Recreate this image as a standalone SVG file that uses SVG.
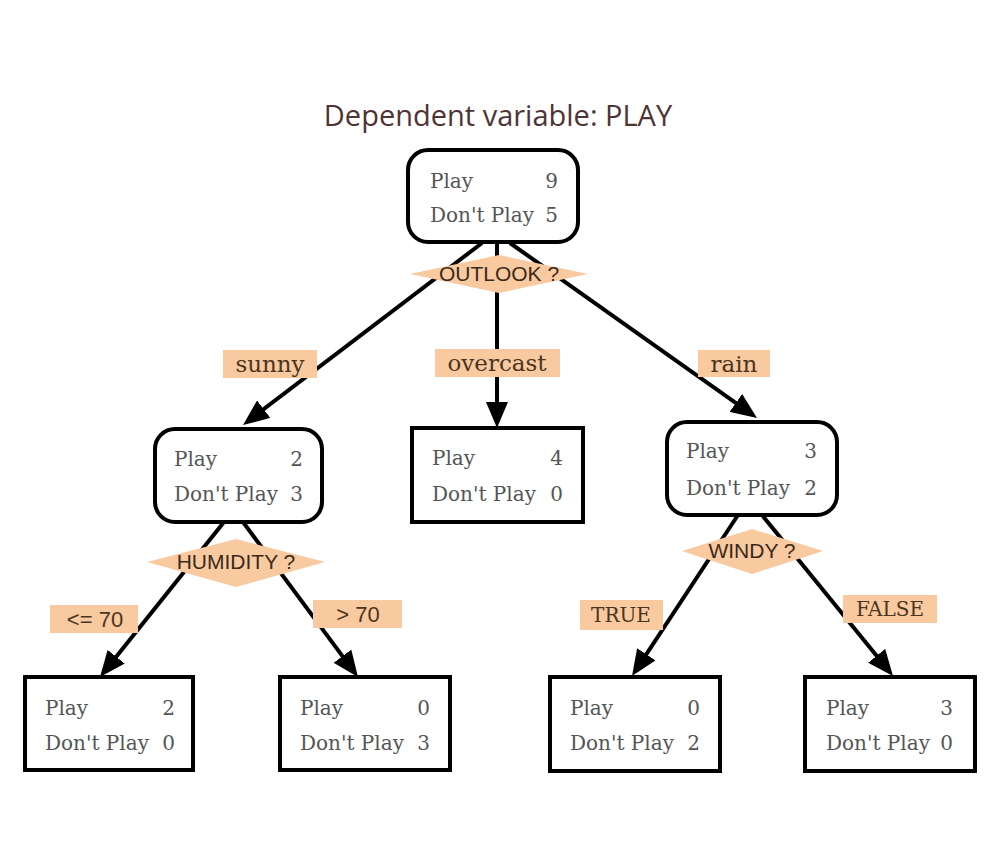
<svg xmlns="http://www.w3.org/2000/svg" width="1000" height="857" viewBox="0 0 1000 857">
<style>
.box{fill:#fff;stroke:#000;stroke-width:4}
.t{font-family:"DejaVu Serif","Liberation Serif",serif;font-size:20px;fill:#555}
.n{font-family:"DejaVu Serif","Liberation Serif",serif;font-size:20px;fill:#555;text-anchor:end}
.lb{fill:#f9c9a0}
.lt{font-family:"DejaVu Serif","Liberation Serif",serif;font-size:23px;fill:#4a3520;text-anchor:middle}
.lu{font-family:"DejaVu Serif","Liberation Serif",serif;font-size:20px;fill:#4a3520;text-anchor:middle}
.ls{font-family:"Liberation Sans","Arial",sans-serif;font-size:22px;fill:#4a3520;text-anchor:middle}
.dt{font-family:"Liberation Sans","Arial",sans-serif;font-size:21px;fill:#3a2a1a;text-anchor:middle}
.e{stroke:#000;stroke-width:4;fill:none;marker-end:url(#ah)}
</style>
<defs>
<marker id="ah" markerUnits="userSpaceOnUse" markerWidth="28" markerHeight="22" refX="18" refY="11" orient="auto">
<path d="M0,0 L26,11 L0,22 z" fill="#000"/>
</marker>
</defs>
<rect width="1000" height="857" fill="#fff"/>
<text x="498" y="126" font-family="'Open Sans','Liberation Sans',sans-serif" font-size="29" fill="#4e3434" text-anchor="middle">Dependent variable: PLAY</text>
<g id="connectors">
<line class="e" x1="482" y1="243" x2="249.4" y2="420.1"/>
<line class="e" x1="497" y1="243" x2="497" y2="420"/>
<line class="e" x1="510" y1="243" x2="750.5" y2="413.4"/>
<line class="e" x1="224" y1="522" x2="105" y2="670.8"/>
<line class="e" x1="243" y1="522" x2="353.2" y2="670.6"/>
<line class="e" x1="738" y1="515" x2="636.4" y2="669.3"/>
<line class="e" x1="762" y1="515" x2="888" y2="669.8"/>
</g>
<g id="root">
<rect class="box" x="408" y="150" width="170" height="92" rx="20"/>
<text class="t" x="430" y="188">Play</text><text class="n" x="558" y="188">9</text>
<text class="t" x="430" y="222">Don't Play</text><text class="n" x="558" y="222">5</text>
</g>
<g id="outlook">
<polygon class="lb" points="410,274 499,255 588,274 499,293"/>
<text class="dt" x="499" y="281">OUTLOOK ?</text>
</g>
<g id="sunny">
<rect class="box" x="155" y="429" width="167" height="93" rx="20"/>
<text class="t" x="174" y="466">Play</text><text class="n" x="303" y="466">2</text>
<text class="t" x="174" y="501">Don't Play</text><text class="n" x="303" y="501">3</text>
</g>
<g id="overcast">
<rect class="box" x="412" y="428" width="171" height="94"/>
<text class="t" x="432" y="465">Play</text><text class="n" x="563" y="465">4</text>
<text class="t" x="432" y="501">Don't Play</text><text class="n" x="563" y="501">0</text>
</g>
<g id="rain">
<rect class="box" x="667" y="422" width="170" height="93" rx="20"/>
<text class="t" x="686" y="458">Play</text><text class="n" x="817" y="458">3</text>
<text class="t" x="686" y="495">Don't Play</text><text class="n" x="817" y="495">2</text>
</g>
<g id="label-sunny"><rect class="lb" x="223" y="350" width="94" height="28"/><text class="lt" x="270" y="372">sunny</text></g>
<g id="label-overcast"><rect class="lb" x="435" y="349" width="125" height="28"/><text class="lt" x="497" y="371">overcast</text></g>
<g id="label-rain"><rect class="lb" x="698" y="350" width="72" height="27"/><text class="lt" x="734" y="372">rain</text></g>
<g id="humidity">
<polygon class="lb" points="147,562 236,539 325,562 236,587"/>
<text class="dt" x="236" y="569">HUMIDITY ?</text>
</g>
<g id="windy">
<polygon class="lb" points="682,551 752,529 823,551 752,574"/>
<text class="dt" x="752" y="558">WINDY ?</text>
</g>
<g id="label-le70"><rect class="lb" x="50" y="605" width="88" height="28"/><text class="ls" x="95" y="627">&lt;= 70</text></g>
<g id="label-gt70"><rect class="lb" x="313" y="600" width="89" height="28"/><text class="ls" x="358" y="622">&gt; 70</text></g>
<g id="label-true"><rect class="lb" x="580" y="600" width="83" height="30"/><text class="lu" x="621" y="622">TRUE</text></g>
<g id="label-false"><rect class="lb" x="843" y="595" width="94" height="28"/><text class="lu" x="890" y="616">FALSE</text></g>
<g id="leaf-le70">
<rect class="box" x="25" y="677" width="168" height="93"/>
<text class="t" x="45" y="715">Play</text><text class="n" x="175" y="715">2</text>
<text class="t" x="45" y="750">Don't Play</text><text class="n" x="175" y="750">0</text>
</g>
<g id="leaf-gt70">
<rect class="box" x="280" y="677" width="170" height="93"/>
<text class="t" x="300" y="715">Play</text><text class="n" x="430" y="715">0</text>
<text class="t" x="300" y="750">Don't Play</text><text class="n" x="430" y="750">3</text>
</g>
<g id="leaf-true">
<rect class="box" x="550" y="677" width="170" height="94"/>
<text class="t" x="570" y="715">Play</text><text class="n" x="700" y="715">0</text>
<text class="t" x="570" y="750">Don't Play</text><text class="n" x="700" y="750">2</text>
</g>
<g id="leaf-false">
<rect class="box" x="805" y="677" width="170" height="94"/>
<text class="t" x="826" y="715">Play</text><text class="n" x="953" y="715">3</text>
<text class="t" x="826" y="750">Don't Play</text><text class="n" x="953" y="750">0</text>
</g>
</svg>
